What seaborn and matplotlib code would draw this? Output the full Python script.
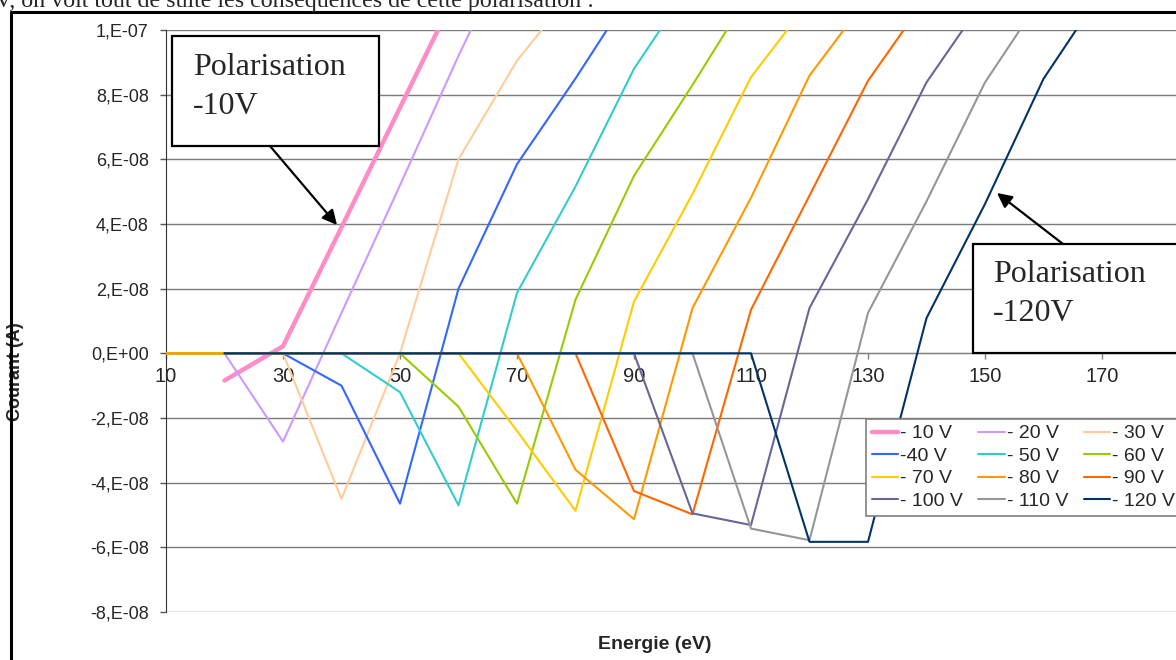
import matplotlib
matplotlib.use("Agg")
import matplotlib.pyplot as plt
import seaborn as sns
import pandas as pd
from matplotlib.patches import Rectangle, FancyArrowPatch
from matplotlib.lines import Line2D

# energies (eV) and currents in units of 1e-8 A
energie = [10, 20, 30, 40, 50, 60, 70, 80, 90, 100, 110, 120, 130, 140, 150, 160, 170]
N = None
c_10 = [N, -0.84, 0.22, 3.9, 7.6, 11.3, N, N, N, N, N, N, N, N, N, N, N]
c_20 = [0, 0, -2.73, 1.25, 5.2, 9.2, 13.0, N, N, N, N, N, N, N, N, N, N]
c_30 = [0, 0, 0, -4.5, 0.0, 6.0, 9.05, 11.3, N, N, N, N, N, N, N, N, N]
c_40 = [0, 0, 0, -1.0, -4.65, 2.0, 5.85, 8.5, 11.3, N, N, N, N, N, N, N, N]
c_50 = [0, 0, 0, 0, -1.2, -4.7, 1.87, 5.16, 8.8, 11.5, N, N, N, N, N, N, N]
c_60 = [0, 0, 0, 0, 0, -1.65, -4.65, 1.66, 5.49, 8.3, 11.2, N, N, N, N, N, N]
c_70 = [0, 0, 0, 0, 0, 0, -2.4, -4.87, 1.6, 4.93, 8.54, 10.9, N, N, N, N, N]
c_80 = [0, 0, 0, 0, 0, 0, 0, -3.6, -5.13, 1.4, 4.81, 8.59, 11.0, N, N, N, N]
c_90 = [N, 0, 0, 0, 0, 0, 0, 0, -4.26, -4.98, 1.35, 4.88, 8.43, 11.0, N, N, N]
c_100 = [N, 0, 0, 0, 0, 0, 0, 0, 0, -4.95, -5.31, 1.40, 4.77, 8.38, 11.0, N, N]
c_110 = [N, 0, 0, 0, 0, 0, 0, 0, 0, 0, -5.42, -5.78, 1.25, 4.70, 8.38, 11.1, N]
c_120 = [N, 0, 0, 0, 0, 0, 0, 0, 0, 0, 0, -5.83, -5.83, 1.09, 4.62, 8.49, 11.2]

series = [c_10, c_20, c_30, c_40, c_50, c_60, c_70, c_80, c_90, c_100, c_110, c_120]
labels = ["- 10 V", "- 20 V", "- 30 V", "-40 V", "- 50 V", "- 60 V",
          "- 70 V", "- 80 V", "- 90 V", "- 100 V", "- 110 V", "- 120 V"]
colors = ["#FF8CC6", "#CC99FF", "#FFCC99", "#3366FF", "#33CCCC", "#99CC00",
          "#FFCC00", "#FF9900", "#FF6600", "#666699", "#969696", "#003366"]

y_ticks = [1e-7, 8e-8, 6e-8, 4e-8, 2e-8, 0, -2e-8, -4e-8, -6e-8, -8e-8]
y_tick_labels = ["1,E-07", "8,E-08", "6,E-08", "4,E-08", "2,E-08", "0,E+00",
                 "-2,E-08", "-4,E-08", "-6,E-08", "-8,E-08"]
x_ticks = [10, 30, 50, 70, 90, 110, 130, 150, 170]

rows = []
for lab, vals in zip(labels, series):
    for e, v in zip(energie, vals):
        if v is not None:
            rows.append({"Energie": e, "Courant": v * 1e-8, "Serie": lab})
df = pd.DataFrame(rows)

sns.set_style("white")
plt.rcParams["font.family"] = ["Liberation Sans", "DejaVu Sans"]

W, H = 1176, 660
fig = plt.figure(figsize=(W / 100, H / 100), dpi=100)
ax = fig.add_axes([166 / W, 48 / H, (1219 - 166) / W, 582 / H])

for lab, col in zip(labels, colors):
    lw = 3.2 if lab == "- 10 V" else 1.5
    sns.lineplot(data=df[df["Serie"] == lab], x="Energie", y="Courant", color=col,
                 lw=lw, ax=ax, label=lab, sort=False, zorder=3)

ax.set_xlim(10, 190)
ax.set_ylim(-8e-8, 1e-7)
ax.set_yticks(y_ticks)
ax.set_yticklabels(y_tick_labels)
ax.set_xticks(x_ticks)
ax.set_xticklabels([str(t) for t in x_ticks])
ax.yaxis.grid(True, color="#7a7a7a", lw=1)
ax.set_axisbelow(True)

for s in ["top", "right"]:
    ax.spines[s].set_visible(False)
ax.spines["bottom"].set_position(("data", 0))
ax.spines["bottom"].set_color("#808080")
ax.spines["left"].set_color("#333333")
ax.tick_params(axis="y", direction="out", length=4.5, width=1, color="#555555",
               labelsize=13, pad=8, left=True)
ax.tick_params(axis="x", direction="out", length=4, width=1, color="#808080",
               labelsize=14.5, pad=6, bottom=True)

ax.set_xlabel("Energie (eV)", fontsize=14, fontweight="bold")
ax.set_ylabel("Courant (A)", fontsize=13, fontweight="bold")
ax.xaxis.set_label_coords((655 - 166) / 1053, (612 - 636) / 582)
ax.yaxis.set_label_coords((24 - 166) / 1053, (612 - 372) / 582)

h, l = ax.get_legend_handles_labels()
order = [0, 3, 6, 9, 1, 4, 7, 10, 2, 5, 8, 11]
leg = ax.legend([h[i] for i in order], [l[i] for i in order], ncol=3,
                loc="upper left", bbox_to_anchor=(866 / W, 1 - 419 / H),
                bbox_transform=fig.transFigure, borderaxespad=0, fontsize=14,
                frameon=True, fancybox=False, framealpha=1, edgecolor="#808080",
                handlelength=1.35, handletextpad=0.1, columnspacing=0.8,
                labelspacing=0.25, borderpad=0.3)
leg.get_frame().set_linewidth(1.2)


def px(x, y):
    return (x / W, 1 - y / H)


# frame of the scanned page
fig.add_artist(Line2D([11 / W, 11 / W], [0, 1 - 12 / H], color="black", lw=2.2,
                      transform=fig.transFigure))
fig.add_artist(Line2D([11 / W, 1], [1 - 12 / H, 1 - 12 / H], color="black", lw=2.2,
                      transform=fig.transFigure))
fig.text(*px(-5, 7), "V, on voit tout de suite les conséquences de cette polarisation :",
         family="Liberation Serif", fontsize=17.3, va="baseline", ha="left")

# annotation boxes
boxes = [((172, 36, 379, 146), ("Polarisation", "-10V"), (193, 75), (270, 146, 337, 225)),
         ((973, 244, 1181, 353), ("Polarisation", "-120V"), (993, 282), (1063, 244, 997, 193))]
for (x0, y0, x1, y1), (t1, t2), (tx, ty), (ax0, ay0, ax1, ay1) in boxes:
    fig.add_artist(Rectangle(px(x0, y1), (x1 - x0) / W, (y1 - y0) / H,
                             transform=fig.transFigure, facecolor="white",
                             edgecolor="black", lw=1.6, zorder=6))
    fig.text(*px(tx, ty), t1, family="Liberation Serif", fontsize=23,
             va="baseline", ha="left", zorder=7)
    fig.text(*px(tx, ty + 39), t2, family="Liberation Serif", fontsize=23,
             va="baseline", ha="left", zorder=7)
    fig.add_artist(FancyArrowPatch(
        px(ax0, ay0), px(ax1, ay1), transform=fig.transFigure,
        arrowstyle="-|>", mutation_scale=22, color="black", lw=1.6, zorder=6,
        shrinkA=0, shrinkB=0))

fig.savefig("out.png", dpi=100)
